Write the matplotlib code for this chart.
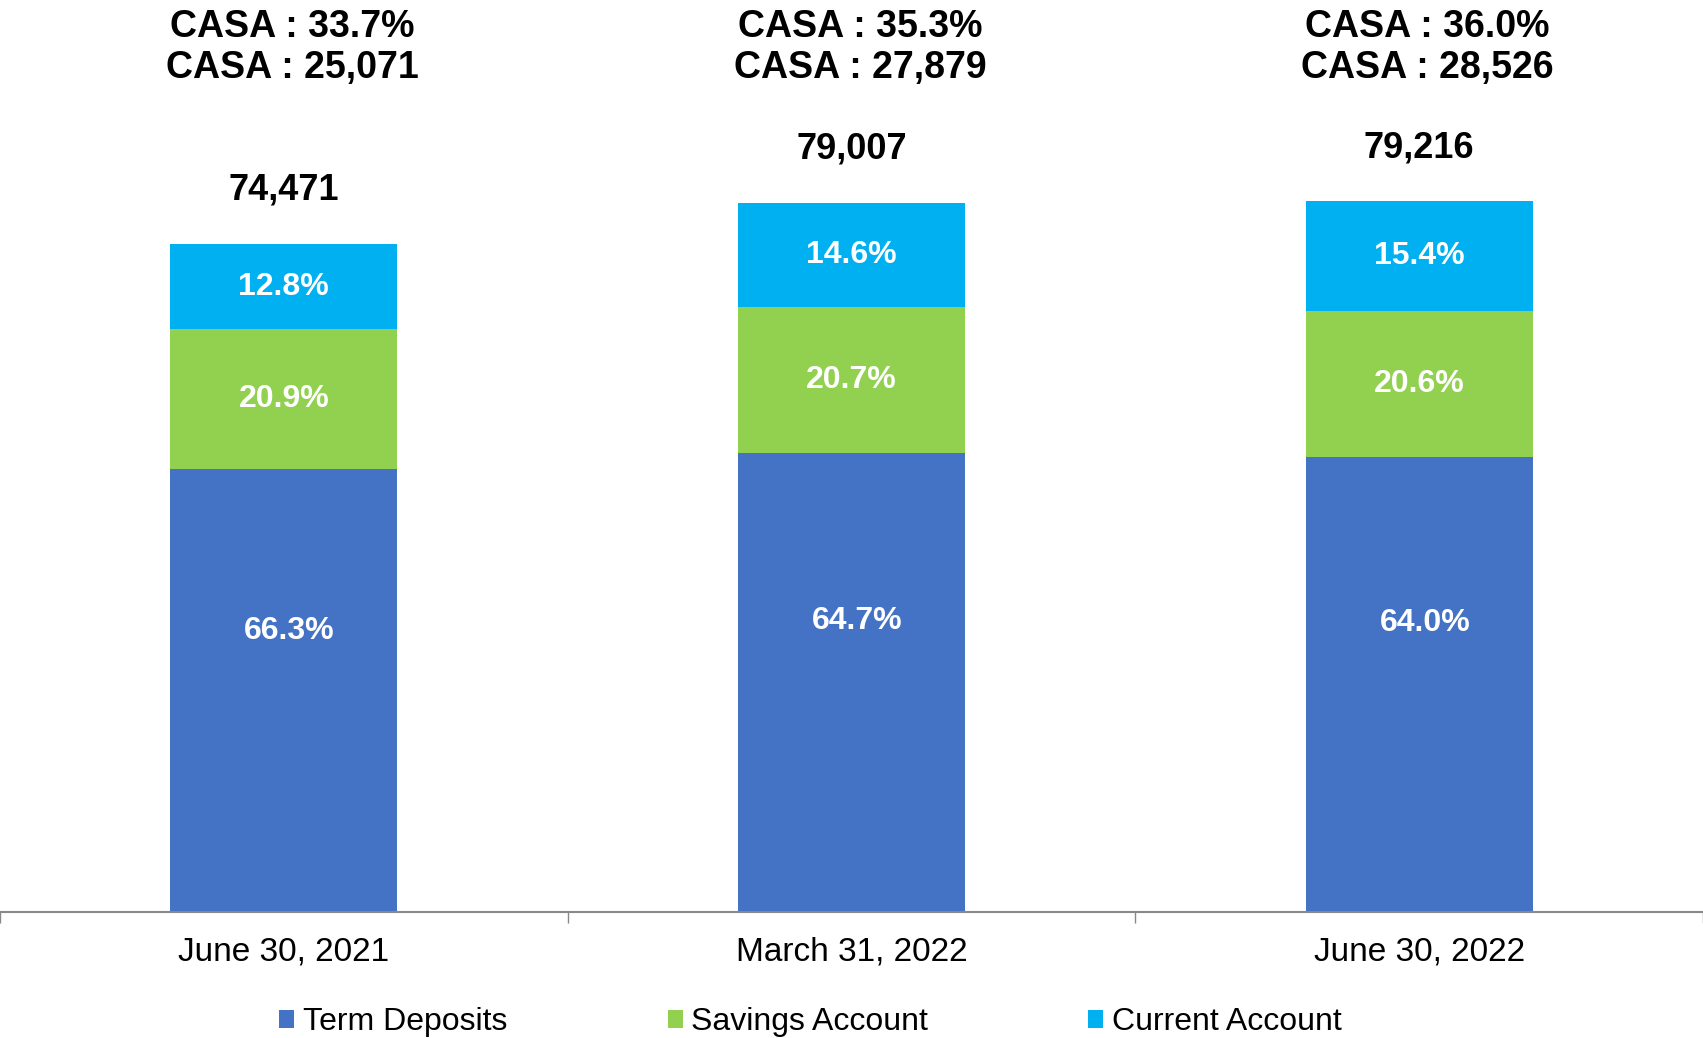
import numpy as np
import matplotlib.pyplot as plt

plt.rcParams['font.family'] = ['Liberation Sans', 'DejaVu Sans']

categories = ['June 30, 2021', 'March 31, 2022', 'June 30, 2022']
totals = [74471, 79007, 79216]
term_pct = [66.3, 64.7, 64.0]
savings_pct = [20.9, 20.7, 20.6]
current_pct = [12.8, 14.6, 15.4]
casa_pct = [33.7, 35.3, 36.0]
casa_amt = [25071, 27879, 28526]

c_term = '#4472C4'
c_sav = '#92D050'
c_cur = '#00B0F0'

tot = np.array(totals, dtype=float)
term = tot * np.array(term_pct) / 100
sav = tot * np.array(savings_pct) / 100
cur = tot - term - sav
x = np.arange(len(categories))

fig = plt.figure(figsize=(17.03, 10.38), dpi=100)
ax = fig.add_axes([0, 0.1214, 1, 0.8786])

b1 = ax.bar(x, term, width=0.4, color=c_term, label='Term Deposits')
b2 = ax.bar(x, sav, width=0.4, bottom=term, color=c_sav, label='Savings Account')
b3 = ax.bar(x, cur, width=0.4, bottom=term + sav, color=c_cur, label='Current Account')

ax.set_xlim(-0.5, 2.5)
ax.set_ylim(0, 101670)

# segment labels
for i in range(len(x)):
    ax.text(x[i] + 0.01, term[i] * 0.635, f'{term_pct[i]:.1f}%', ha='center', va='center',
            color='white', fontsize=23, fontweight='bold')
    ax.text(x[i], term[i] + sav[i] / 2, f'{savings_pct[i]:.1f}%', ha='center', va='center',
            color='white', fontsize=23, fontweight='bold')
    ax.text(x[i], term[i] + sav[i] + cur[i] / 2, f'{current_pct[i]:.1f}%', ha='center',
            va='center', color='white', fontsize=23, fontweight='bold')
    ax.text(x[i], tot[i] + 6000, f'{totals[i]:,}', ha='center', va='center',
            fontsize=26, fontweight='bold')
    # CASA lines at the top of the figure
    xf = (x[i] + 0.5) / 3 + 0.005
    fig.text(xf, 1 - 27 / 1038, f'CASA : {casa_pct[i]:.1f}%', ha='center', va='center',
             fontsize=27, fontweight='bold')
    fig.text(xf, 1 - 68 / 1038, f'CASA : {casa_amt[i]:,}', ha='center', va='center',
             fontsize=27, fontweight='bold')

for s in ['left', 'right', 'top']:
    ax.spines[s].set_visible(False)
ax.spines['bottom'].set_color('#898989')
ax.spines['bottom'].set_linewidth(1.5)
ax.set_yticks([])
ax.set_xticks(x)
ax.set_xticklabels(categories, fontsize=24)
ax.tick_params(axis='x', which='major', length=0, pad=18)
ax.set_xticks([-0.5, 0.5, 1.5, 2.5], minor=True)
ax.tick_params(axis='x', which='minor', length=8, width=1, color='#898989', direction='out')

fig.legend(handles=[b1, b2, b3], loc='center', bbox_to_anchor=(0.476, 0.0151), ncol=3,
           frameon=False, fontsize=23, handlelength=0.47, handleheight=0.47,
           handletextpad=0.28, columnspacing=5.0)

plt.savefig('out.png', dpi=100)
